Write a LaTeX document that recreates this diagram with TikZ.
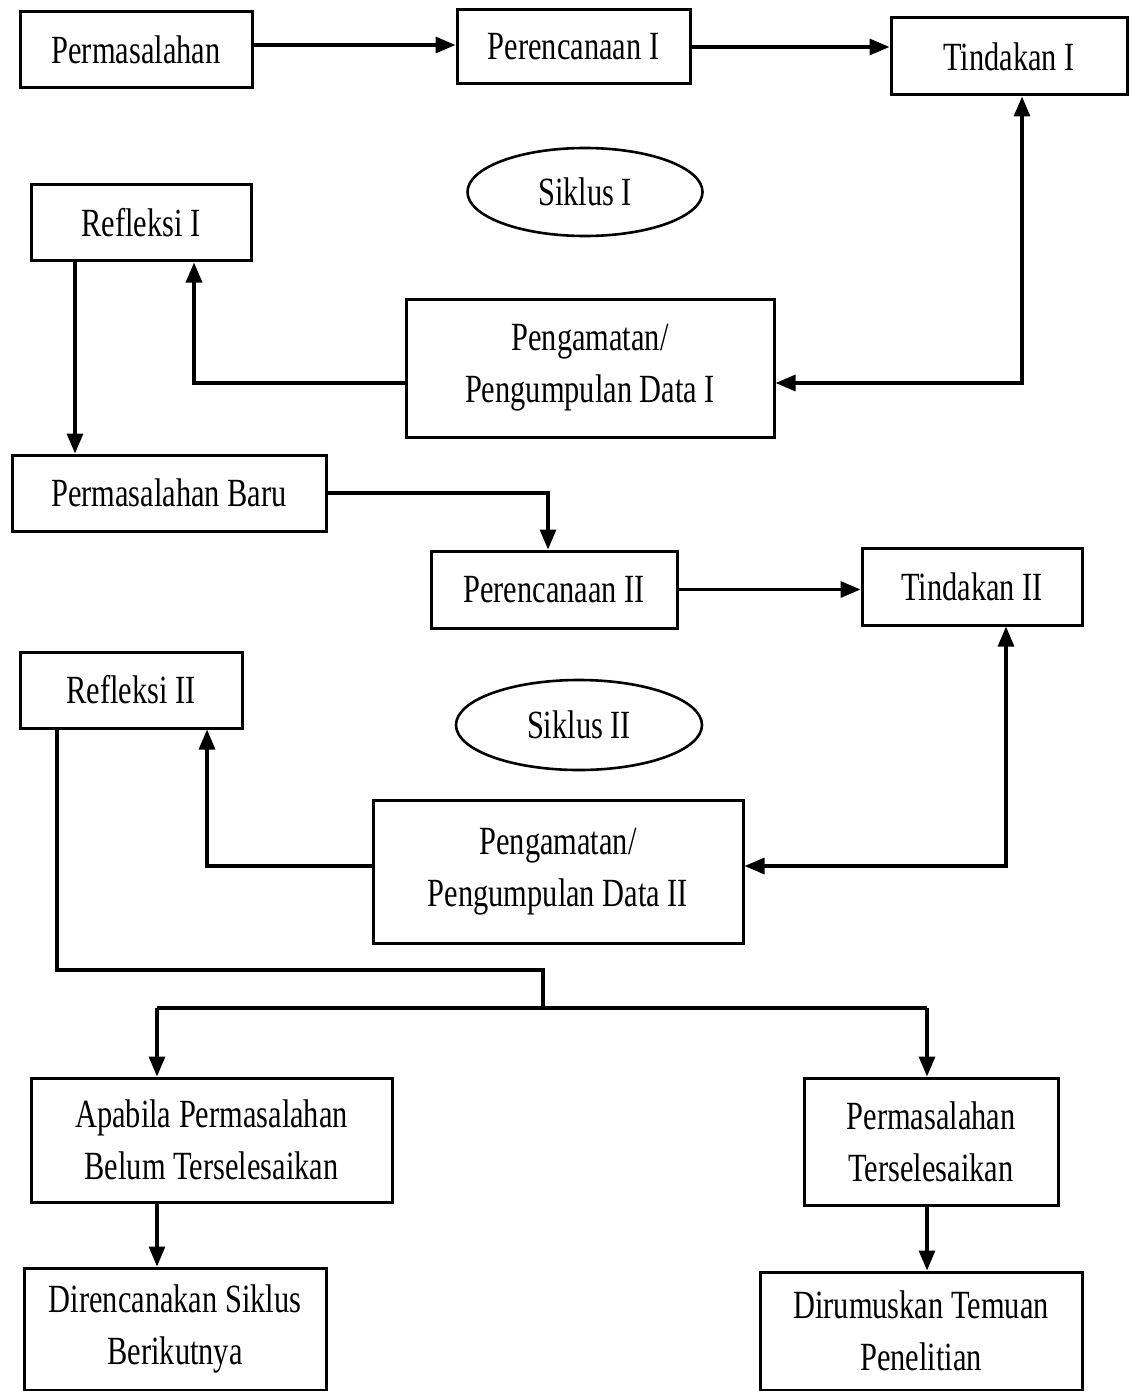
\documentclass[tikz,border=0pt]{standalone}
\usepackage{fontspec}
\setmainfont{Liberation Serif}[FakeStretch=0.76]
\usetikzlibrary{arrows.meta,shapes.geometric}

\begin{document}
\begin{tikzpicture}[x=0.5pt, y=-0.5pt,
    box/.style={draw, line width=1.5pt, inner sep=0pt, align=center,
                font=\fontsize{20}{26}\selectfont},
    oval/.style={draw, ellipse, line width=1.3pt, inner sep=0pt,
                 font=\fontsize{20}{26}\selectfont},
    arr/.style={line width=1.6pt, -{Triangle[length=10pt, width=8pt]}},
    arrboth/.style={line width=1.6pt, {Triangle[length=10pt, width=8pt]}-{Triangle[length=10pt, width=8pt]}},
    line/.style={line width=1.6pt}]

  \useasboundingbox (0,0) rectangle (1131,1391);

  % --- Siklus I ---
  \node[box, minimum width=116pt, minimum height=38pt] (masalah) at (136,50) {Permasalahan};
  \node[box, minimum width=116.5pt, minimum height=37pt] (rencanaI) at (573.5,47) {Perencanaan I};
  \node[box, minimum width=118pt, minimum height=38.5pt] (tindakanI) at (1009,56.5) {Tindakan I};
  \node[oval, minimum width=117.5pt, minimum height=44pt] (siklusI) at (585,192) {Siklus I};
  \node[box, minimum width=110pt, minimum height=38pt] (refleksiI) at (141,223) {Refleksi I};
  \node[box, minimum width=184pt, minimum height=69pt] (amatI) at (590,368)
      {Pengamatan/\\Pengumpulan Data I};

  % --- Siklus II ---
  \node[box, minimum width=157pt, minimum height=38pt] (masalahBaru) at (169,493) {Permasalahan Baru};
  \node[box, minimum width=123pt, minimum height=38.5pt] (rencanaII) at (554,589.5) {Perencanaan II};
  \node[box, minimum width=110pt, minimum height=38.5pt] (tindakanII) at (972,586.5) {Tindakan II};
  \node[box, minimum width=111pt, minimum height=38pt] (refleksiII) at (131,690) {Refleksi II};
  \node[oval, minimum width=123pt, minimum height=45pt] (siklusII) at (579,725) {Siklus II};
  \node[box, minimum width=185pt, minimum height=71.5pt] (amatII) at (558,871.5)
      {Pengamatan/\\Pengumpulan Data II};

  % --- Hasil ---
  \node[box, minimum width=180.5pt, minimum height=62pt] (belum) at (211.5,1140)
      {Apabila Permasalahan\\Belum Terselesaikan};
  \node[box, minimum width=127pt, minimum height=63.5pt] (selesai) at (931,1141.5)
      {Permasalahan\\Terselesaikan};
  \node[box, minimum width=151pt, minimum height=61pt] (berikut) at (175,1329)
      {Direncanakan Siklus\\Berikutnya};
  \node[box, minimum width=161pt, minimum height=59pt] (temuan) at (921,1331)
      {Dirumuskan Temuan\\Penelitian};

  % --- Bends ---
  \coordinate (kA) at (1022,383);
  \coordinate (kB) at (194,383);
  \coordinate (kC) at (75,350);
  \coordinate (kD) at (548,493);
  \coordinate (kE) at (1006,866);
  \coordinate (kF) at (207,866);
  \coordinate (kG) at (57,970);
  \coordinate (kH) at (543,970);
  \coordinate (kJ) at (543,1008);
  \coordinate (kL) at (157,1008);
  \coordinate (kR) at (927,1008);
  \coordinate (kT) at (0,45);

  % --- Connectors, Siklus I ---
  \draw[arr] (masalah.east |- kT) -- (rencanaI.west |- kT);
  \draw[arr] (rencanaI.east) -- (rencanaI.east -| tindakanI.west);
  \draw[arrboth] (kA |- tindakanI.south) -- (kA) -- (kA -| amatI.east);
  \draw[arr] (kB -| amatI.west) -- (kB) -- (kB |- refleksiI.south);
  \draw[arr] (kC |- refleksiI.south) -- (kC |- masalahBaru.north);

  % --- Connectors, Siklus II ---
  \draw[arr] (masalahBaru.east) -- (kD) -- (kD |- rencanaII.north);
  \draw[arr] (rencanaII.east) -- (rencanaII.east -| tindakanII.west);
  \draw[arrboth] (kE |- tindakanII.south) -- (kE) -- (kE -| amatII.east);
  \draw[arr] (kF -| amatII.west) -- (kF) -- (kF |- refleksiII.south);

  % --- Connectors, Hasil ---
  \draw[line] (kG |- refleksiII.south) -- (kG) -- (kH) -- (kJ);
  \draw[line] (kL) -- (kR);
  \draw[arr] (kL) -- (kL |- belum.north);
  \draw[arr] (kR) -- (kR |- selesai.north);
  \draw[arr] (kL |- belum.south) -- (kL |- berikut.north);
  \draw[arr] (kR |- selesai.south) -- (kR |- temuan.north);

\end{tikzpicture}
\end{document}
